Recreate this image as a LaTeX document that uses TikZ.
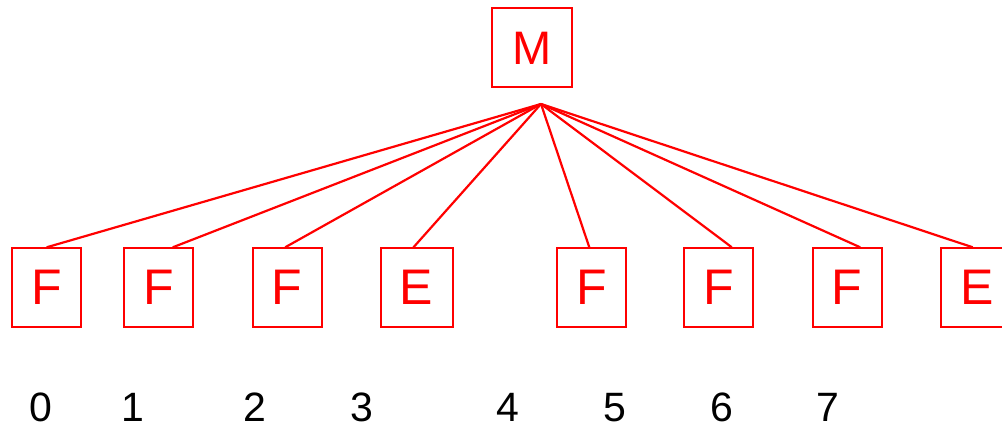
\documentclass[tikz,border=0pt]{standalone}
\usepackage{fontspec}
\setmainfont{Liberation Sans}
\begin{document}
\begin{tikzpicture}[x=1pt,y=-1pt,
  box/.style={draw=red,line width=2pt,text=red,inner sep=0pt,minimum height=79pt,font=\fontsize{50}{50}\selectfont},
  fbox/.style={box,minimum width=69pt},
  ebox/.style={box,minimum width=72pt},
  mbox/.style={box,minimum width=80pt,minimum height=79pt,font=\fontsize{47}{47}\selectfont},
  link/.style={red,line width=2.2pt},
  num/.style={anchor=base,inner sep=0pt,text depth=0pt,font=\fontsize{41}{41}\selectfont}]
\useasboundingbox (0,0) rectangle (1002,427);
\node[mbox] (m) at (532.3,48) {M};
\coordinate (hub) at (541,104);
\node[fbox] (b1) at (46.7,287.8) {F};
\node[fbox] (b2) at (158.8,287.8) {F};
\node[fbox] (b3) at (287.2,287.8) {F};
\node[ebox] (b4) at (416.5,287.8) {E};
\node[fbox] (b5) at (591.3,287.8) {F};
\node[fbox] (b6) at (718.8,287.8) {F};
\node[fbox] (b7) at (847.2,287.8) {F};
\node[ebox] (b8) at (976.7,287.8) {E};
\draw[link] (hub) -- ([xshift=0pt]b1.north);
\draw[link] (hub) -- ([xshift=14pt]b2.north);
\draw[link] (hub) -- ([xshift=-2pt]b3.north);
\draw[link] (hub) -- ([xshift=-3pt]b4.north);
\draw[link] (hub) -- ([xshift=-2pt]b5.north);
\draw[link] (hub) -- ([xshift=13pt]b6.north);
\draw[link] (hub) -- ([xshift=13pt]b7.north);
\draw[link] (hub) -- ([xshift=-4pt]b8.north);
\node[num] (n0) at (41.3,422) {0};
\node[num] (n1) at (132.5,422) {1};
\node[num] (n2) at (254.7,422) {2};
\node[num] (n3) at (361.7,422) {3};
\node[num] (n4) at (507.5,422) {4};
\node[num] (n5) at (615,422) {5};
\node[num] (n6) at (721.7,422) {6};
\node[num] (n7) at (827.5,422) {7};
\end{tikzpicture}
\end{document}
